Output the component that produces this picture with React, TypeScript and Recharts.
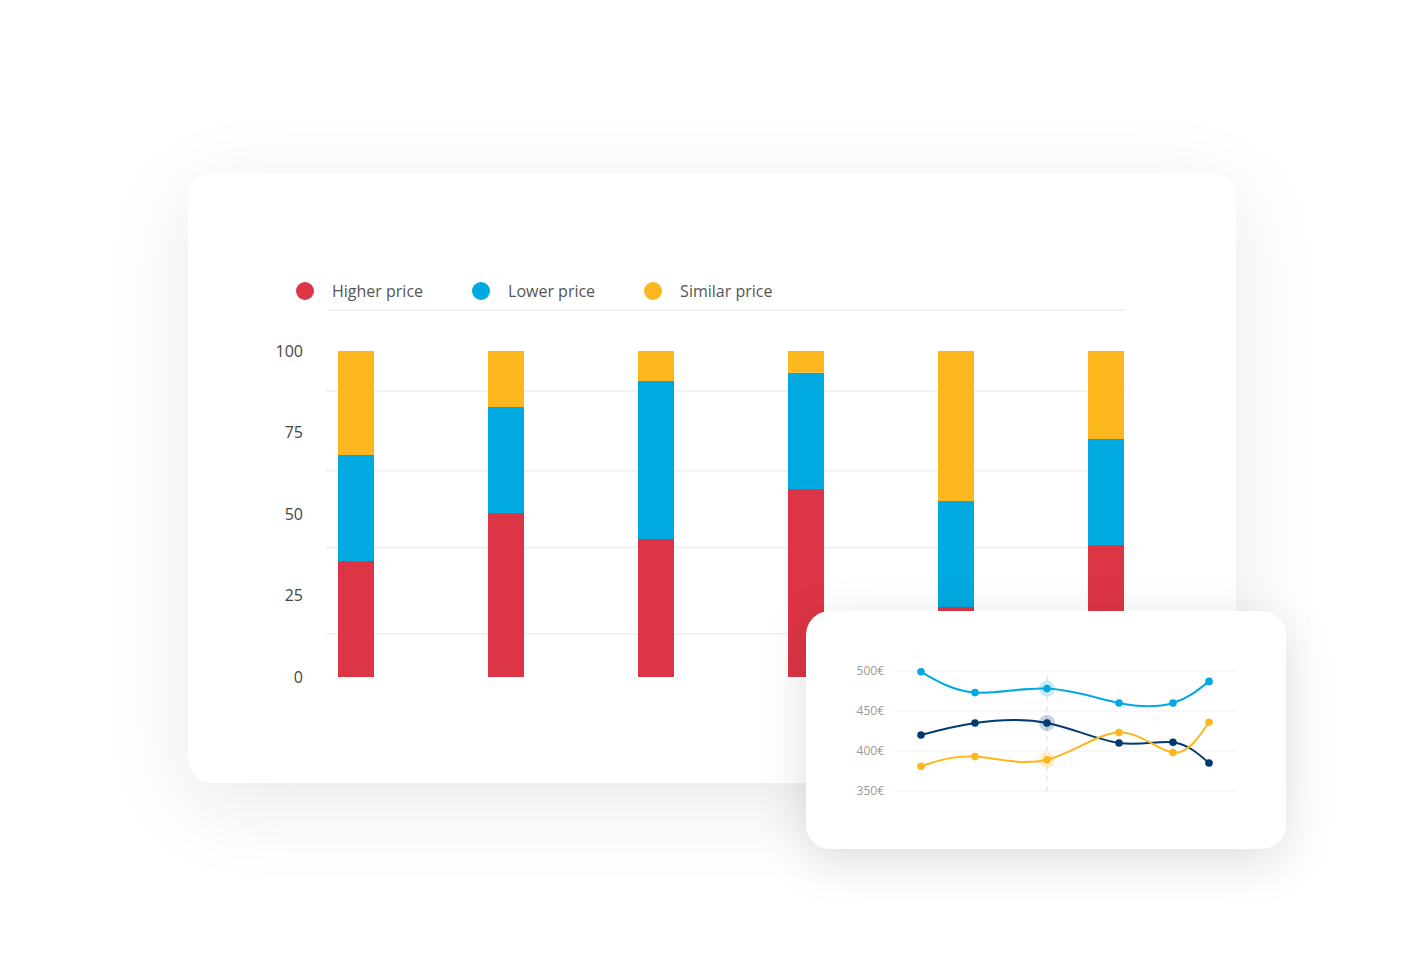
import { BarChart, Bar, LineChart, Line, XAxis, YAxis, CartesianGrid, ReferenceLine } from 'recharts';

// stacked shares per product slot (each bar adds up to 100)
const slots = [0, 1, 2, 3, 4, 5];
const higherPrice = [35.6, 50.3, 42.3, 57.7, 21.5, 40.5];
const lowerPrice = [32.5, 32.5, 48.5, 35.6, 32.5, 32.5];
const similarPrice = [31.9, 17.2, 9.2, 6.7, 46.0, 27.0];
const shareTicks = [0, 25, 50, 75, 100];
const gridLevels = [13.3, 39.7, 63.3, 87.7];

// price history in the small card
const days = [2, 5, 9, 13, 16, 18];
const priceLow = [499, 473, 478, 460, 460, 487];
const priceOwn = [420, 435, 435, 410, 411, 385];
const priceMid = [381, 393, 389, 423, 398, 436];
const priceTicks = [350, 400, 450, 500];
const focusDay = 9;

const RED = '#dc3545';
const BLUE = '#00a9e0';
const YELLOW = '#fdb71e';
const NAVY = '#003a70';

const legendItems = [
  { label: 'Higher price', color: RED },
  { label: 'Lower price', color: BLUE },
  { label: 'Similar price', color: YELLOW },
];

const shareData = slots.map((s, i) => ({
  slot: s,
  higher: higherPrice[i],
  lower: lowerPrice[i],
  similar: similarPrice[i],
}));

const priceData = days.map((d, i) => ({
  day: d,
  low: priceLow[i],
  own: priceOwn[i],
  mid: priceMid[i],
}));

const focusIndex = days.indexOf(focusDay);

function makeDot(color: string) {
  return (props: any) => {
    const { cx, cy, index } = props;
    return (
      <g key={`dot-${color}-${index}`}>
        {index === focusIndex && <circle cx={cx} cy={cy} r={8} fill={color} fillOpacity={0.22} />}
        <circle cx={cx} cy={cy} r={3.8} fill={color} />
      </g>
    );
  };
}

export default function App() {
  return (
    <div
      style={{
        position: 'absolute',
        left: 0,
        top: 0,
        width: 1424,
        height: 954,
        background: '#fff',
        fontFamily: '"Open Sans", sans-serif',
        overflow: 'hidden',
      }}
    >
      <div
        style={{
          position: 'absolute',
          left: 188,
          top: 173,
          width: 1048,
          height: 610,
          borderRadius: 24,
          background: '#fff',
          boxShadow: '0 20px 90px rgba(0,0,0,0.09)',
        }}
      >
        <div style={{ position: 'absolute', left: 108, top: 109, height: 18, display: 'flex', alignItems: 'center' }}>
          {legendItems.map((it) => (
            <div key={it.label} style={{ display: 'flex', alignItems: 'center', marginRight: 49 }}>
              <span style={{ width: 18, height: 18, borderRadius: 9, background: it.color, marginRight: 18 }} />
              <span style={{ fontSize: 16, color: '#555', whiteSpace: 'nowrap' }}>{it.label}</span>
            </div>
          ))}
        </div>
        <div style={{ position: 'absolute', left: 140, top: 136, width: 798, height: 2, background: '#f2f2f4' }} />

        <div style={{ position: 'absolute', left: 0, top: 0 }}>
          <BarChart width={1048} height={610} data={shareData} margin={{ top: 178, right: 110, bottom: 106, left: 78 }}>
            <CartesianGrid vertical={false} horizontalValues={gridLevels} stroke="#ededf3" strokeWidth={1.5} />
            <XAxis type="number" dataKey="slot" domain={[-0.2, 5.1333]} hide />
            <YAxis
              width={60}
              domain={[0, 100]}
              ticks={shareTicks}
              axisLine={false}
              tickLine={false}
              tickSize={0}
              tickMargin={23}
              tick={{ fill: '#444', fontSize: 16 }}
            />
            <Bar dataKey="higher" stackId="s" fill={RED} barSize={36} isAnimationActive={false} />
            <Bar dataKey="lower" stackId="s" fill={BLUE} barSize={36} isAnimationActive={false} />
            <Bar dataKey="similar" stackId="s" fill={YELLOW} barSize={36} isAnimationActive={false} />
          </BarChart>
        </div>
      </div>

      <div
        style={{
          position: 'absolute',
          left: 806,
          top: 611,
          width: 480,
          height: 238,
          borderRadius: 24,
          background: '#fff',
          boxShadow: '0 12px 50px rgba(0,0,0,0.13)',
        }}
      >
        <LineChart width={480} height={238} data={priceData} margin={{ top: 60, right: 50, bottom: 58, left: 38 }}>
          <CartesianGrid vertical={false} stroke="#f0f0f4" />
          <XAxis type="number" dataKey="day" domain={[0.5, 19.5]} hide />
          <YAxis
            width={50}
            domain={[350, 500]}
            ticks={priceTicks}
            axisLine={false}
            tickLine={false}
            tickSize={0}
            tickMargin={10}
            tick={{ fill: '#9a9a9a', fontSize: 12 }}
            tickFormatter={(v) => `${v}€`}
          />
          <ReferenceLine x={focusDay} stroke="#ececec" strokeWidth={2} strokeDasharray="5 5" />
          <Line type="natural" dataKey="low" stroke={BLUE} strokeWidth={2} dot={makeDot(BLUE)} isAnimationActive={false} />
          <Line type="natural" dataKey="own" stroke={NAVY} strokeWidth={2} dot={makeDot(NAVY)} isAnimationActive={false} />
          <Line type="natural" dataKey="mid" stroke={YELLOW} strokeWidth={2} dot={makeDot(YELLOW)} isAnimationActive={false} />
        </LineChart>
      </div>
    </div>
  );
}
